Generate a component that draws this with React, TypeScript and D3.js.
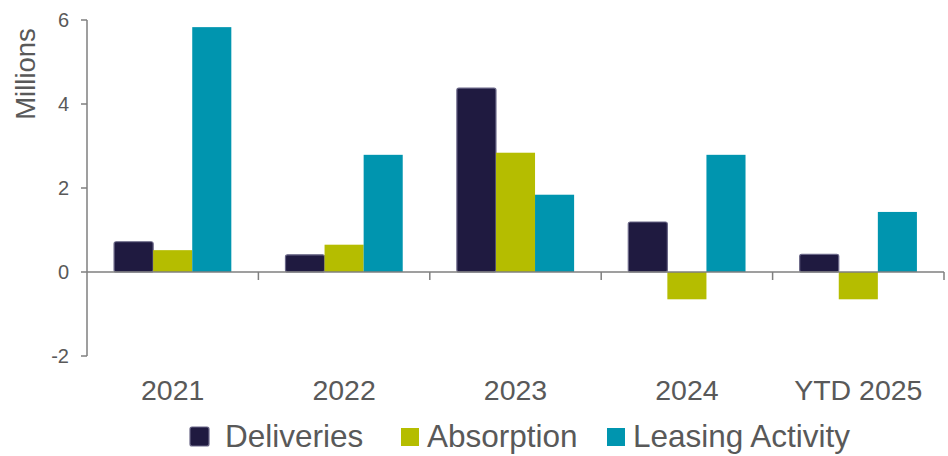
import React from "react";
import * as d3 from "d3";

const categories = ["2021", "2022", "2023", "2024", "YTD 2025"];
const seriesNames = ["Deliveries", "Absorption", "Leasing Activity"];
const deliveries = [0.72, 0.41, 4.38, 1.19, 0.42];
const absorption = [0.52, 0.65, 2.84, -0.65, -0.65];
const leasing = [5.83, 2.79, 1.84, 2.79, 1.43];
const yTicks = [-2, 0, 2, 4, 6];
const colors = ["#1f1a40", "#b5bd00", "#0095af"];

const W = 948;
const H = 456;

export default function App() {
  const series = [deliveries, absorption, leasing];
  const x0 = d3.scaleBand<string>().domain(categories).range([87, 944]).padding(0);
  const bw = x0.bandwidth();
  const x1 = d3
    .scaleBand<string>()
    .domain(seriesNames)
    .range([bw * 0.158, bw * 0.842])
    .padding(0);
  const y = d3.scaleLinear().domain([-2, 6]).range([356, 20]);
  const textColor = "#595959";
  const axisColor = "#7f7f7f";

  return (
    <svg
      width={W}
      height={H}
      style={{ position: "absolute", left: 0, top: 0, fontFamily: "'Liberation Sans', Arial, sans-serif" }}
    >
      <rect width={W} height={H} fill="#fff" />
      {/* bars */}
      {categories.map((c, i) => (
        <g key={c} transform={`translate(${x0(c)},0)`}>
          {series.map((vals, s) => {
            const v = vals[i];
            const top = y(Math.max(0, v));
            const h = Math.abs(y(v) - y(0));
            return (
              <rect
                key={s}
                x={x1(seriesNames[s])}
                y={top}
                width={x1.bandwidth()}
                height={h}
                fill={colors[s]}
                stroke={s === 0 ? "#6a6787" : "none"}
                strokeWidth={s === 0 ? 1.2 : 0}
                rx={s === 0 ? 2 : 0}
              />
            );
          })}
        </g>
      ))}
      {/* y axis */}
      <line x1={87} x2={87} y1={y(6)} y2={y(-2)} stroke={axisColor} strokeWidth={1.5} />
      {yTicks.map((t) => (
        <g key={t}>
          <line x1={81} x2={87} y1={y(t)} y2={y(t)} stroke={axisColor} strokeWidth={1.5} />
          <text
            x={69}
            y={y(t)}
            dy="0.35em"
            textAnchor="end"
            fontSize={20}
            fill={textColor}
          >
            {t}
          </text>
        </g>
      ))}
      {/* x axis */}
      <line x1={87} x2={944} y1={y(0)} y2={y(0)} stroke={axisColor} strokeWidth={1.5} />
      {categories.map((c) => (
        <line
          key={c}
          x1={(x0(c) as number) + bw}
          x2={(x0(c) as number) + bw}
          y1={y(0)}
          y2={y(0) + 8}
          stroke={axisColor}
          strokeWidth={1.5}
        />
      ))}
      {categories.map((c) => (
        <text
          key={c}
          x={(x0(c) as number) + bw / 2}
          y={400}
          textAnchor="middle"
          fontSize={28.5}
          fill={textColor}
        >
          {c}
        </text>
      ))}
      {/* y title */}
      <text
        transform="translate(35,74) rotate(-90)"
        textAnchor="middle"
        fontSize={27.5}
        fill={textColor}
      >
        Millions
      </text>
      {/* legend */}
      {[
        { sx: 189, tx: 225 },
        { sx: 401, tx: 427 },
        { sx: 607, tx: 633 },
      ].map((p, i) => (
        <g key={i}>
          <rect
            x={p.sx + (i === 0 ? 1 : 0)}
            y={i === 0 ? 427 : 428}
            width={i === 0 ? 19 : 18}
            height={i === 0 ? 19 : 18}
            rx={i === 0 ? 2 : 0}
            fill={colors[i]}
            stroke={i === 0 ? "#6a6787" : "none"}
            strokeWidth={i === 0 ? 1.2 : 0}
          />
          <text x={p.tx} y={447} fontSize={31.5} fill={textColor}>
            {seriesNames[i]}
          </text>
        </g>
      ))}
    </svg>
  );
}
